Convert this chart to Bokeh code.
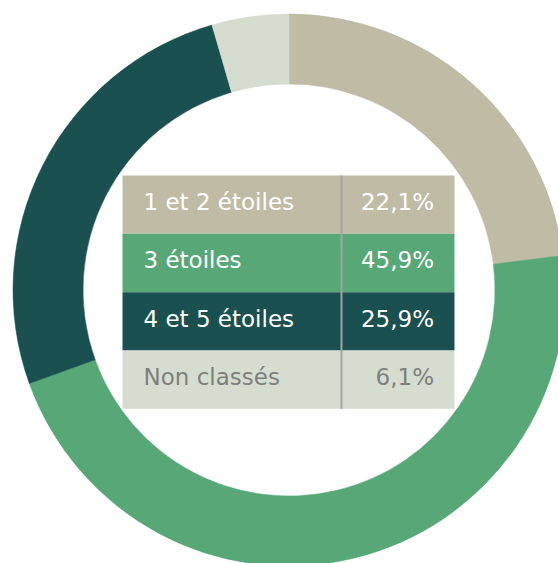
import math
from bokeh.plotting import figure
from bokeh.models import Range1d, ColumnDataSource
from bokeh.core.properties import value
from bokeh.embed import file_html
from bokeh.resources import INLINE

# ---- data ----
categories = ["1 et 2 étoiles", "3 étoiles", "4 et 5 étoiles", "Non classés"]
table_values = ["22,1%", "45,9%", "25,9%", "6,1%"]
slice_shares = [23.0, 46.5, 26.0, 4.5]   # arc shares as drawn in the ring
colors = ["#BFBBA5", "#57A876", "#1A5050", "#D5DDD0"]
text_colors = ["#FFFFFF", "#FFFFFF", "#FFFFFF", "#7F7F7F"]

W, H = 558, 563
p = figure(width=W, height=H, output_backend="svg", toolbar_location=None,
           x_range=Range1d(0, W), y_range=Range1d(0, H),
           min_border=0, background_fill_color="white", border_fill_color="white")
p.axis.visible = False
p.grid.visible = False
p.outline_line_color = None

def sy(y_screen):
    return H - y_screen

# ---- donut ----
cx, cy = 288.5, sy(289.5)
r_out, r_in = 276, 206
total = sum(slice_shares)
starts, ends = [], []
cum = 0.0
for s in slice_shares:
    starts.append(math.pi / 2 - 2 * math.pi * cum / total)
    cum += s
    ends.append(math.pi / 2 - 2 * math.pi * cum / total)
src = ColumnDataSource(dict(start=starts, end=ends, color=colors))
p.annular_wedge(x=cx, y=cy, inner_radius=r_in, outer_radius=r_out,
                start_angle="start", end_angle="end", direction="clock",
                fill_color="color", line_color="color", line_width=0.5, source=src)

# ---- table ----
left, right, top, row_h, divider = 122, 454, 175, 58.33, 341
n = len(categories)
tops = [sy(top + i * row_h) for i in range(n)]
bottoms = [sy(top + (i + 1) * row_h) for i in range(n)]
mids = [sy(top + i * row_h + 26.5) for i in range(n)]
tsrc = ColumnDataSource(dict(top=tops, bottom=bottoms, mid=mids, color=colors,
                             cat=categories, val=table_values, tcolor=text_colors))
p.quad(left=left, right=right, top="top", bottom="bottom", fill_color="color",
       line_color=None, source=tsrc)
p.segment(x0=divider, y0=sy(top), x1=divider, y1=sy(top + n * row_h),
          line_color="#A3A3A3", line_width=2)
p.text(x=143, y="mid", text="cat", text_color="tcolor", text_font=value("DejaVu Sans"),
       text_font_size="23px", text_align="left", text_baseline="middle", source=tsrc)
p.text(x=433.5, y="mid", text="val", text_color="tcolor", text_font=value("DejaVu Sans"),
       text_font_size="23px", text_align="right", text_baseline="middle", source=tsrc)

open("out.html", "w").write(file_html(p, INLINE))
